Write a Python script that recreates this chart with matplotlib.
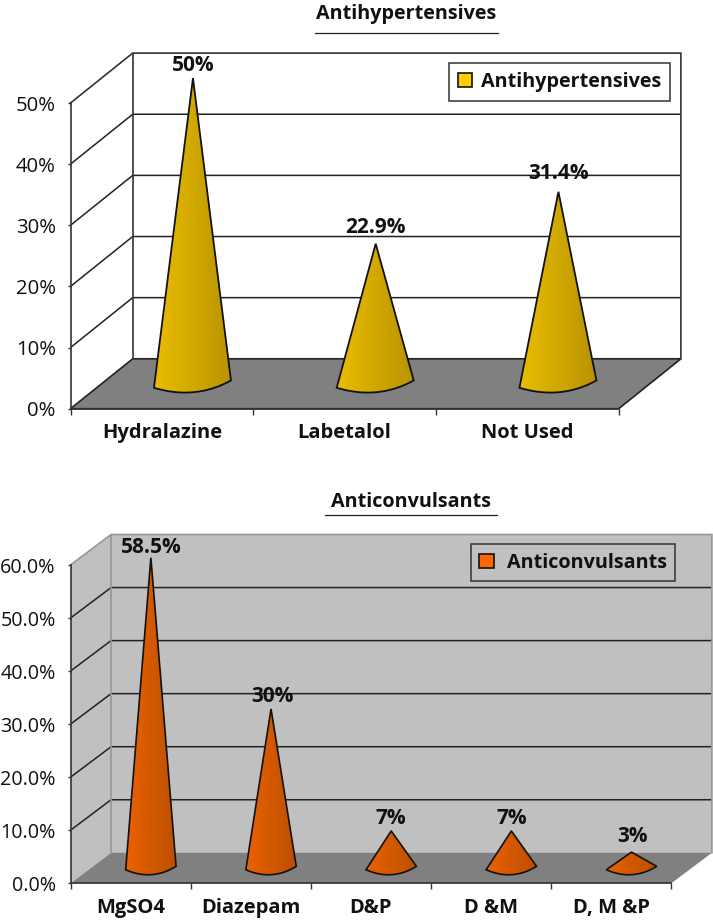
import numpy as np
import matplotlib
matplotlib.use("Agg")
import matplotlib.pyplot as plt
from matplotlib.patches import Polygon, Patch
from matplotlib.lines import Line2D

# ---------- data ----------
anti_htn_categories = ["Hydralazine", "Labetalol", "Not Used"]
anti_htn_values = [50, 22.9, 31.4]
anti_htn_labels = ["50%", "22.9%", "31.4%"]
anti_htn_ticks = [0, 10, 20, 30, 40, 50]
anti_htn_ticklabels = ["0%", "10%", "20%", "30%", "40%", "50%"]

anti_conv_categories = ["MgSO4", "Diazepam", "D&P", "D &M", "D, M &P"]
anti_conv_values = [58.5, 30, 7, 7, 3]
anti_conv_labels = ["58.5%", "30%", "7%", "7%", "3%"]
anti_conv_ticks = [0, 10, 20, 30, 40, 50, 60]
anti_conv_ticklabels = ["0.0%", "10.0%", "20.0%", "30.0%", "40.0%", "50.0%", "60.0%"]

# ---------- figure ----------
W, H = 713, 921
FONT = "Open Sans"
plt.rcParams["font.family"] = [FONT, "DejaVu Sans"]
INK = "#111111"
fig = plt.figure(figsize=(W / 100, H / 100), dpi=100, facecolor="white")


def fx(px):
    return px / W


def fy(py):
    return 1 - py / H


def chart(categories, values, labels, ticks, ticklabels, title, style):
    left, right, y0, ytop = style["left"], style["right"], style["y0"], style["ytop"]
    dxp, dyp = style["depth_px"]
    ax = fig.add_axes([fx(left), fy(y0), fx(right + dxp - left), (y0 - (ytop - dyp)) / H])
    n = len(categories)
    cat_px = (right - left) / n
    val_px = (y0 - ytop) / ticks[-1]
    dx, dy = dxp / cat_px, dyp / val_px
    ax.set_xlim(0, n + dx)
    ax.set_ylim(0, ticks[-1] + dy)
    ax.patch.set_visible(False)

    wall = style["wall"]
    edge = style["wall_edge"]
    vmax = ticks[-1]
    # walls and floor
    ax.add_patch(Polygon([(dx, dy), (n + dx, dy), (n + dx, vmax + dy), (dx, vmax + dy)],
                         fc=wall, ec="none", zorder=1))
    ax.add_patch(Polygon([(0, 0), (dx, dy), (dx, vmax + dy), (0, vmax)],
                         fc=wall, ec="none", zorder=1))
    ax.add_patch(Polygon([(0, 0), (n, 0), (n + dx, dy), (dx, dy)],
                         fc="#808080", ec=style["floor_edge"], lw=style["edge_lw"], zorder=2,
                         clip_on=False))
    # grid
    for t in ticks[1:-1]:
        ax.plot([0, dx, n + dx], [t, t + dy, t + dy], color=style["grid"], lw=style["grid_lw"],
                zorder=2, solid_joinstyle="miter")
    ax.plot([0, dx, n + dx, n + dx], [vmax, vmax + dy, vmax + dy, dy], color=edge,
            lw=style["edge_lw"], zorder=2, clip_on=False, solid_joinstyle="miter")
    ax.plot([dx, dx], [dy, vmax + dy], color=edge, lw=style["edge_lw"], zorder=2)

    # cones: straight sides to a shallow base arc, in floor-plane offsets
    (lx_, ly_), (rx_, ry_), (bx_, by_) = style["base_l"], style["base_r"], style["base_low"]
    ctrl_x = 2 * bx_ - (lx_ + rx_) / 2
    ctrl_y = 2 * by_ - (ly_ + ry_) / 2
    for i, (v, lab, lift, shift) in enumerate(zip(values, labels, style["lift"], style["shift"])):
        cx = i + 0.5 + dx / 2
        cy = dy / 2
        s = np.linspace(0, 1, 60)
        ex = cx + ((1 - s) ** 2 * lx_ + 2 * s * (1 - s) * ctrl_x + s ** 2 * rx_) / cat_px
        ey = cy - ((1 - s) ** 2 * ly_ + 2 * s * (1 - s) * ctrl_y + s ** 2 * ry_) / val_px
        tip = (cx, cy + v)
        xs = np.r_[tip[0], ex]
        ys = np.r_[tip[1], ey]
        poly = Polygon(np.c_[xs, ys], closed=True, fc="none", ec="#111111", lw=style["cone_lw"], zorder=5,
                       joinstyle="miter")
        ax.add_patch(poly)
        grad = np.linspace(0, 1, 128)[None, :, None]
        c0 = np.array(matplotlib.colors.to_rgb(style["grad"][0]))
        c1 = np.array(matplotlib.colors.to_rgb(style["grad"][1]))
        img = c0 + (c1 - c0) * grad
        im = ax.imshow(img, extent=(xs.min(), xs.max(), ys.min(), ys.max()), aspect="auto",
                       origin="lower", zorder=4, interpolation="bilinear")
        im.set_clip_path(poly)
        ax.annotate(lab, xy=tip, xytext=(shift * 0.72, lift * 0.72), textcoords="offset points",
                    ha="center", va="center", fontsize=style["label_fs"], fontweight="bold",
                    color=INK, zorder=6)
    ax.set_xlim(0, n + dx)
    ax.set_ylim(0, vmax + dy)

    # axes
    for s_ in ("top", "right"):
        ax.spines[s_].set_visible(False)
    ax.spines["left"].set_bounds(0, vmax)
    ax.spines["bottom"].set_bounds(0, n)
    for s_ in ("left", "bottom"):
        ax.spines[s_].set_color("#333333")
        ax.spines[s_].set_linewidth(1.2)
        ax.spines[s_].set_zorder(3)
    ax.set_yticks(ticks)
    ax.set_yticklabels(ticklabels)
    ax.tick_params(axis="y", length=2, width=1, color="#333333", pad=style["ypad"],
                   labelsize=style["tick_fs"], labelcolor=INK)
    ax.set_xticks(np.arange(n + 1))
    ax.set_xticklabels([""] * (n + 1))
    ax.set_xticks(np.arange(n) + 0.5, minor=True)
    ax.set_xticklabels(categories, minor=True, fontweight="bold", fontsize=style["cat_fs"], color=INK)
    ax.tick_params(axis="x", which="major", length=4.3, width=1, color="#333333")
    ax.tick_params(axis="x", which="minor", length=0, pad=style["xpad"])

    # title with its rule
    tx0, tx1, ty, ly = style["title_px"]
    fig.text(fx((tx0 + tx1) / 2), fy(ty), title, ha="center", va="center", fontweight="bold",
             fontsize=style["title_fs"], color=INK)
    fig.add_artist(Line2D([fx(tx0), fx(tx1)], [fy(ly), fy(ly)], color="#222222", lw=0.9))

    # legend
    lx, ly0 = style["legend_px"]
    leg = ax.legend(handles=[Patch(fc=style["swatch"], ec="#111111", lw=1.2, label=title)],
                    loc="upper left", bbox_to_anchor=(fx(lx), fy(ly0)), bbox_transform=fig.transFigure,
                    borderaxespad=0, fancybox=False, framealpha=1, facecolor=style["legend_bg"],
                    edgecolor="#333333", prop={"weight": "bold", "size": style["legend_fs"], "family": FONT},
                    handlelength=style["hl"], handleheight=style["hh"], handletextpad=style["htp"],
                    borderpad=style["bp"], labelcolor=INK)
    leg.get_frame().set_linewidth(1.1)
    leg.set_zorder(7)
    return ax


chart(anti_htn_categories, anti_htn_values, anti_htn_labels, anti_htn_ticks, anti_htn_ticklabels,
      "Antihypertensives",
      dict(left=70.5, right=618.7, y0=408.7, ytop=103, depth_px=(62.2, 49.9), wall="white",
           wall_edge="#333333", floor_edge="#222222", edge_lw=1.2, grid="#222222", grid_lw=1.1,
           base_l=(-39, 4), base_r=(38, -3.3), base_low=(0.85, 8.4), cone_lw=1.3,
           grad=("#EABD00", "#B89400"),
           lift=[13, 16, 18], shift=[0, 0, 0], label_fs=15, tick_fs=14.6, cat_fs=14.5, ypad=8.6, xpad=10.5,
           title_px=(315, 498, 14, 32.7), title_fs=14.2, legend_px=(449.3, 63.3), swatch="#FFCC00",
           legend_bg="white", legend_fs=14.2, hl=0.7, hh=0.7, htp=0.45, bp=0.45))

chart(anti_conv_categories, anti_conv_values, anti_conv_labels, anti_conv_ticks, anti_conv_ticklabels,
      "Anticonvulsants",
      dict(left=70.5, right=671.3, y0=883.3, ytop=565, depth_px=(40.6, 30.5), wall="#C0C0C0",
           wall_edge="#969696", floor_edge="none", edge_lw=1.2, grid="#222222", grid_lw=1.1,
           base_l=(-25.2, 1.7), base_r=(25.2, -1.7), base_low=(0.5, 6.6), cone_lw=1.2,
           grad=("#EA6200", "#BC4F00"),
           lift=[10, 12, 12, 12, 16], shift=[0, 1, 0, 0, 1], label_fs=15, tick_fs=14.2, cat_fs=14.5, ypad=8.6, xpad=10.5,
           title_px=(325, 497, 502, 515), title_fs=14.2, legend_px=(471, 544.3), swatch="#FF6600",
           legend_bg="#C0C0C0", legend_fs=14.2, hl=0.75, hh=0.75, htp=0.63, bp=0.43))

fig.savefig("out.png", dpi=100)
